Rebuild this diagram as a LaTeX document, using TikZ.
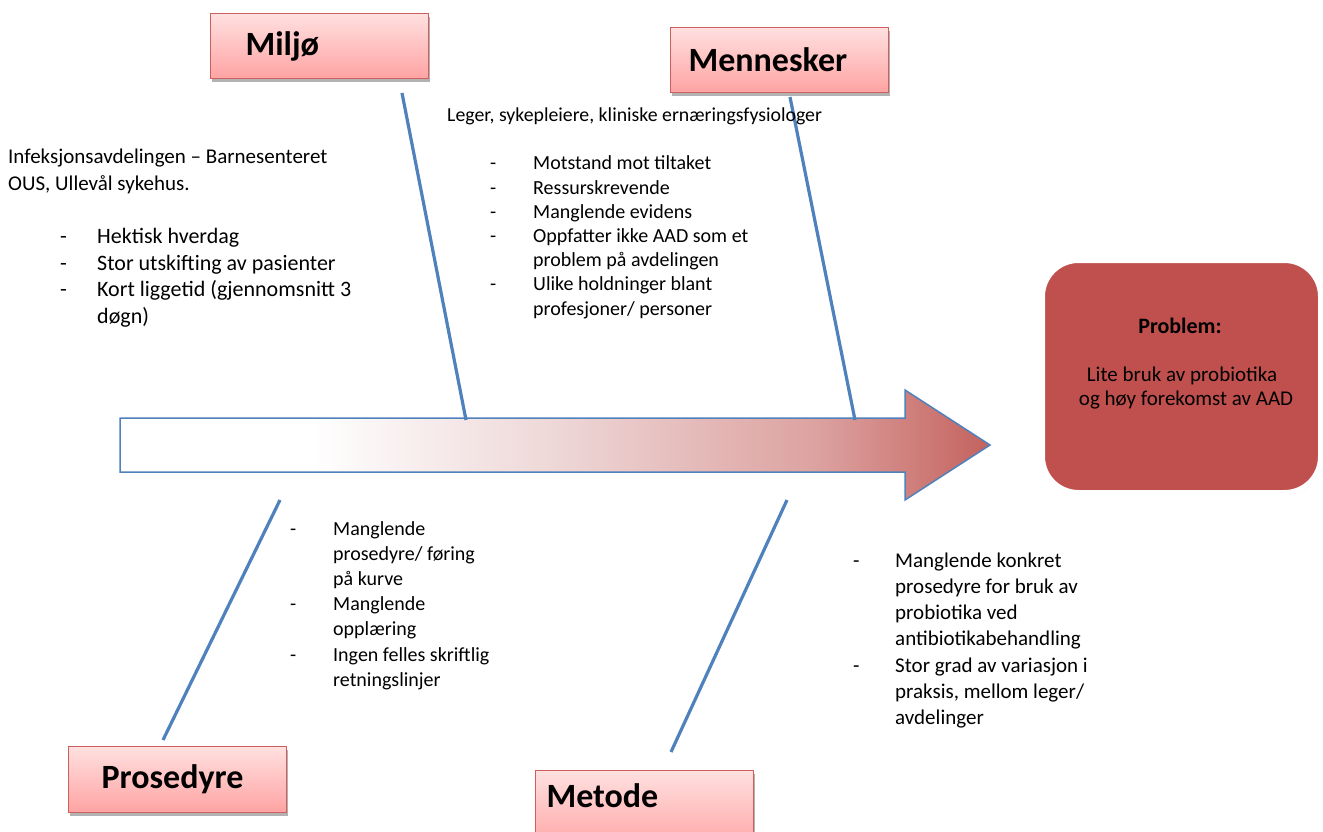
\documentclass[tikz,border=0pt]{standalone}
\usepackage{fontspec}
\setmainfont{Carlito}
\usetikzlibrary{shadows}
\definecolor{boneblue}{RGB}{79,129,189}
\definecolor{probred}{RGB}{192,80,77}
\definecolor{catborder}{RGB}{205,95,92}
\definecolor{cattop}{RGB}{255,224,224}
\definecolor{catbot}{RGB}{255,163,163}
\definecolor{spA}{RGB}{238,215,215}
\definecolor{spB}{RGB}{220,162,160}
\definecolor{spC}{RGB}{196,98,94}
\pgfdeclarehorizontalshading{spineshade}{100bp}{color(0bp)=(white); color(25bp)=(white); color(36bp)=(white); color(50bp)=(spA); color(65bp)=(spB); color(75bp)=(spC); color(100bp)=(spC)}
\begin{document}
\begin{tikzpicture}[x=1pt,y=-1pt,
  catbox/.style={draw=catborder, line width=1.2pt, top color=cattop, bottom color=catbot,
    anchor=north west, minimum height=65pt, align=left,
    font=\fontsize{34}{40}\selectfont\bfseries,
    drop shadow={shadow xshift=1pt, shadow yshift=-3pt, opacity=0.3, fill=black}},
  bone/.style={draw=boneblue, line width=3.2pt},
  txt/.style={anchor=base west, inner sep=0pt, align=left},
]
\useasboundingbox (0,0) rectangle (1323,832);
\fill[white] (0,0) rectangle (1323,832);

% spine arrow
\coordinate (s1) at (120,418);
\coordinate (s2) at (905,418);
\coordinate (s3) at (905,390);
\coordinate (tip) at (990,445);
\coordinate (s5) at (905,500);
\coordinate (s6) at (905,472);
\coordinate (s7) at (120,472);
\path[shading=spineshade]
  (s1) -- (s2) -- (s3) -- (tip) -- (s5) -- (s6) -- (s7) -- cycle;
\draw[boneblue, line width=1.5pt, line join=miter]
  (s1) -- (s2) -- (s3) -- (tip) -- (s5) -- (s6) -- (s7) -- cycle;

% category boxes
\node[catbox, inner xsep=35pt, text width=148pt] (miljo) at (210,13) {Miljø};
\node[catbox, inner xsep=18pt, text width=182pt] (mennesker) at (670,27) {Mennesker};
\node[catbox, inner xsep=33pt, text width=152pt, minimum height=66pt] (prosedyre) at (68,746) {Prosedyre};
\node[catbox, inner xsep=11pt, text width=196pt, minimum height=80pt, text depth=30pt] (metode) at (535,770) {Metode};

% bones
\coordinate (b1s) at (402,93);  \coordinate (b1e) at (466,420);
\coordinate (b2s) at (790,97);  \coordinate (b2e) at (855,420);
\coordinate (b3s) at (280,500); \coordinate (b3e) at (163,740);
\coordinate (b4s) at (787,500); \coordinate (b4e) at (671,752);
\draw[bone] (b1s) -- (b1e);
\draw[bone] (b2s) -- (b2e);
\draw[bone] (b3s) -- (b3e);
\draw[bone] (b4s) -- (b4e);

% problem box
\node[draw=white, line width=5pt, fill=probred, rounded corners=36pt,
      minimum width=278pt, minimum height=232pt, anchor=north west,
      drop shadow={shadow xshift=1pt, shadow yshift=-2pt, opacity=0.35, fill=black}]
      (problem) at (1040,258) {};
\node[anchor=base, inner sep=0pt, font=\fontsize{22}{24}\selectfont\bfseries] (probhead) at (1180,333) {Problem:};
\node[anchor=base, inner sep=0pt, font=\fontsize{21}{24}\selectfont] (probtext) at (1182,381)
  {\begin{tabular}[t]{@{}c@{}}Lite bruk av probiotika\\ \hspace*{8pt}og høy forekomst av AAD\end{tabular}};

% texts
\node[txt, font=\fontsize{21}{27}\selectfont] (envhead) at (8,164)
  {\begin{tabular}[t]{@{}l@{}}Infeksjonsavdelingen – Barnesenteret\\OUS, Ullevål sykehus.\end{tabular}};
\node[txt, font=\fontsize{22}{27}\selectfont] (envlist) at (60,243)
  {\begin{tabular}[t]{@{}p{37pt}@{}l@{}}
  -& Hektisk hverdag\\
  -& Stor utskifting av pasienter\\
  -& Kort liggetid (gjennomsnitt 3\\
   & døgn)
  \end{tabular}};

\node[txt, font=\fontsize{19.8}{24}\selectfont] (pplhead) at (447,122)
  {Leger, sykepleiere, kliniske ernæringsfysiologer};
\node[txt, font=\fontsize{20}{24.2}\selectfont] (ppllist) at (490,170)
  {\begin{tabular}[t]{@{}p{43pt}@{}l@{}}
  -& Motstand mot tiltaket\\
  -& Ressurskrevende\\
  -& Manglende evidens\\
  -& Oppfatter ikke AAD som et\\
   & problem på avdelingen\\
  -& Ulike holdninger blant\\
   & profesjoner/ personer
  \end{tabular}};

\node[txt, font=\fontsize{20}{25.2}\selectfont] (prolist) at (290,535)
  {\begin{tabular}[t]{@{}p{43pt}@{}l@{}}
  -& Manglende\\
   & prosedyre/ føring\\
   & på kurve\\
  -& Manglende\\
   & opplæring\\
  -& Ingen felles skriftlig\\
   & retningslinjer
  \end{tabular}};

\node[txt, font=\fontsize{21}{26.3}\selectfont] (metlist) at (853,567)
  {\begin{tabular}[t]{@{}p{42pt}@{}l@{}}
  -& Manglende konkret\\
   & prosedyre for bruk av\\
   & probiotika ved\\
   & antibiotikabehandling\\
  -& Stor grad av variasjon i\\
   & praksis, mellom leger/\\
   & avdelinger
  \end{tabular}};
\end{tikzpicture}
\end{document}
